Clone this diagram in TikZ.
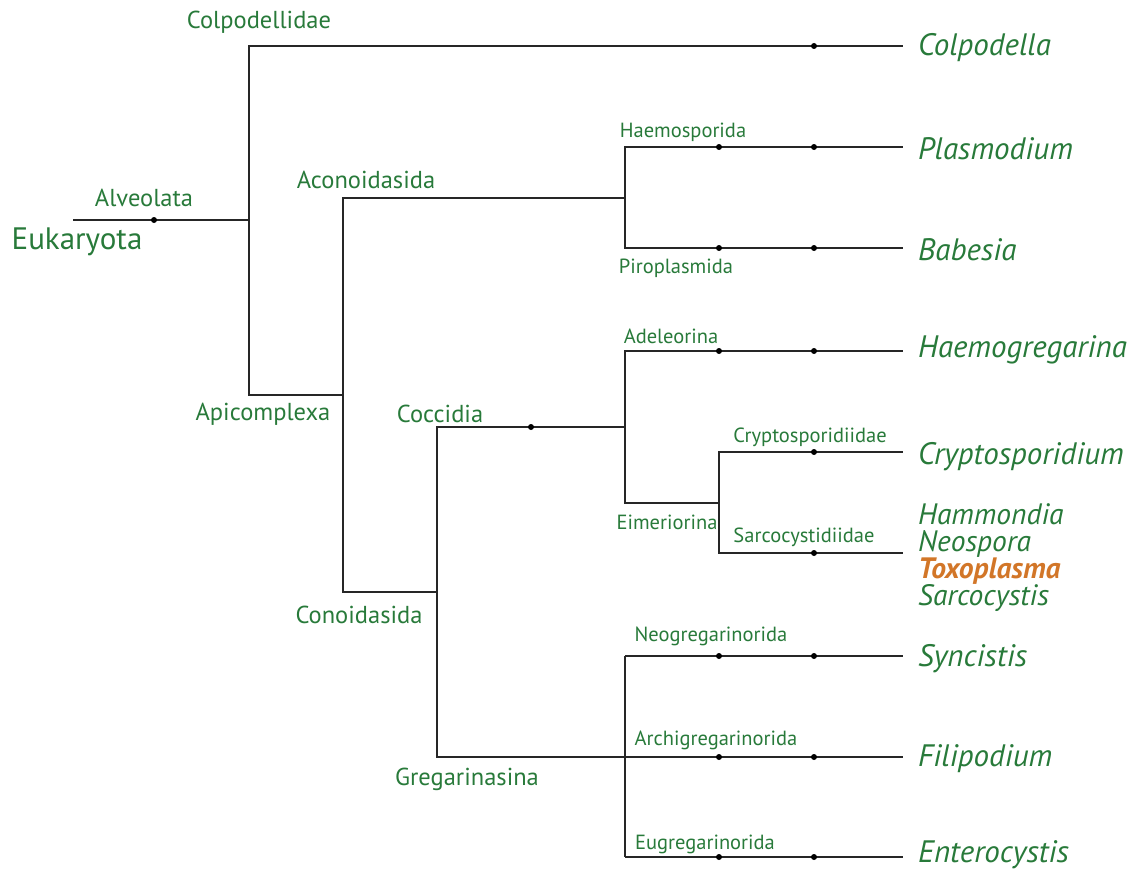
\documentclass[tikz,border=0pt]{standalone}
\usepackage{fontspec}
\setmainfont{PT Sans}
\definecolor{taxgreen}{RGB}{40,122,58}
\definecolor{taxorange}{RGB}{210,118,40}
\tikzset{
  branch/.style={line width=1.3pt, black!85},
  clade/.style={text=taxgreen, font=\fontsize{24.5}{27}\selectfont, inner sep=0pt},
  rank/.style={text=taxgreen, font=\fontsize{20.5}{23}\selectfont, inner sep=0pt},
  genus/.style={text=taxgreen, font=\fontsize{31}{26}\selectfont\itshape,
    anchor=west, inner xsep=15pt, inner ysep=0pt, align=left}
}
\begin{document}
\begin{tikzpicture}[x=1pt,y=-1pt]
  \useasboundingbox (0,0) rectangle (1142,872);
  % junctions
  \coordinate (root) at (73,220);
  \coordinate (alv) at (249,220);
  \coordinate (api) at (343,395);
  \coordinate (acon) at (625,198);
  \coordinate (con) at (437,592);
  \coordinate (cocc) at (625,427);
  \coordinate (eim) at (719,503);
  \coordinate (greg) at (625,757);
  % genera
  \node[genus] (colp) at (903,48) {Colpodella};
  \node[genus] (plas) at (903,149) {Plasmodium};
  \node[genus] (babe) at (903,250) {Babesia};
  \node[genus] (haem) at (903,350) {Haemogregarina};
  \node[genus] (cryp) at (903,457) {Cryptosporidium};
  \node[genus, font=\fontsize{29.5}{27}\selectfont\itshape] (sarc) at (903,558) {Hammondia\\Neospora\\%
    {\bfseries\color{taxorange}Toxoplasma}\\Sarcocystis};
  \node[genus] (sync) at (903,659) {Syncistis};
  \node[genus] (fili) at (903,759) {Filipodium};
  \node[genus] (ente) at (903,855) {Enterocystis};
  % branches
  \draw[branch] (root) -- (alv);
  \draw[branch] (alv) |- (colp.west |- 0,46);
  \draw[branch] (alv) |- (api);
  \draw[branch] (api) |- (acon);
  \draw[branch] (api) |- (con);
  \draw[branch] (acon) |- (plas.west |- 0,147);
  \draw[branch] (acon) |- (babe.west |- 0,248);
  \draw[branch] (con) |- (cocc);
  \draw[branch] (con) |- (fili.west |- greg);
  \draw[branch] (cocc) |- (haem.west |- 0,351);
  \draw[branch] (cocc) |- (eim);
  \draw[branch] (eim) |- (cryp.west |- 0,452);
  \draw[branch] (eim) |- (sarc.west |- 0,553);
  \draw[branch] (greg |- 0,656) -- (greg |- 0,857);
  \draw[branch] (greg |- 0,656) -- (sync.west |- 0,656);
  \draw[branch] (greg |- 0,857) -- (ente.west |- 0,857);
  % dots
  \foreach \x/\y in {154/220, 814/46, 531/427, 719/147, 814/147, 719/248, 814/248,
    719/351, 814/351, 814/452, 814/553, 719/656, 814/656, 719/757, 814/757,
    719/857, 814/857}
    \fill (\x,\y) circle (3pt);
  % clade labels
  \node[text=taxgreen, font=\fontsize{31}{33}\selectfont, inner sep=0pt] (euk) at (77,242) {Eukaryota};
  \node[clade] (alvl) at (144,198) {Alveolata};
  \node[clade] (colpl) at (259,22) {Colpodellidae};
  \node[clade] (apil) at (263,414) {Apicomplexa};
  \node[clade] (aconl) at (366,180) {Aconoidasida};
  \node[clade] (conl) at (359,615) {Conoidasida};
  \node[clade] (coccl) at (440,414) {Coccidia};
  \node[clade] (gregl) at (467,779) {Gregarinasina};
  % rank labels
  \node[rank] (haeml) at (683,132) {Haemosporida};
  \node[rank] (pirol) at (676,268) {Piroplasmida};
  \node[rank] (adel) at (671,336) {Adeleorina};
  \node[rank] (eiml) at (667,522) {Eimeriorina};
  \node[rank] (crypl) at (810,437) {Cryptosporidiidae};
  \node[rank] (sarcl) at (804,537) {Sarcocystidiidae};
  \node[rank] (neol) at (711,636) {Neogregarinorida};
  \node[rank] (archl) at (716,740) {Archigregarinorida};
  \node[rank] (eugl) at (705,844) {Eugregarinorida};
\end{tikzpicture}
\end{document}
